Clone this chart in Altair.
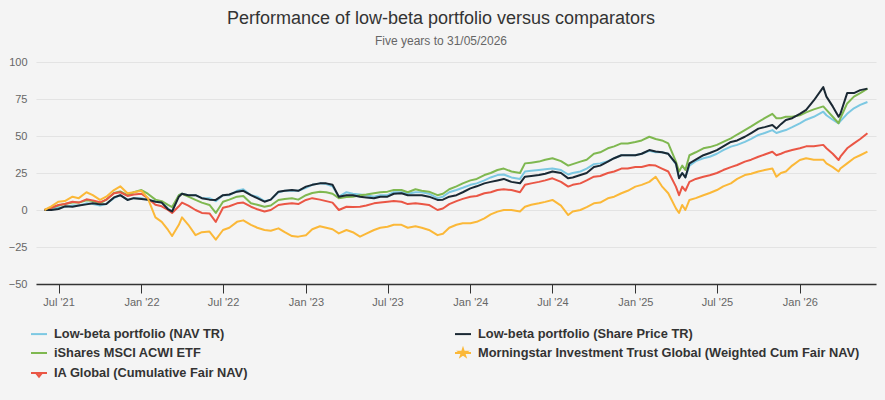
import altair as alt
import pandas as pd

# ---- data (cumulative % performance) ----
dates = [
    "2021-05-31", "2021-06-15", "2021-07-01", "2021-07-15", "2021-08-01", "2021-08-15",
    "2021-09-01", "2021-09-15", "2021-10-01", "2021-10-15", "2021-11-01", "2021-11-15",
    "2021-12-01", "2021-12-15", "2022-01-01", "2022-01-15", "2022-02-01", "2022-02-15",
    "2022-03-01", "2022-03-10", "2022-03-25", "2022-04-01", "2022-04-15", "2022-05-01",
    "2022-05-15", "2022-06-01", "2022-06-15", "2022-07-01", "2022-07-15", "2022-08-01",
    "2022-08-15", "2022-09-01", "2022-09-15", "2022-10-01", "2022-10-15", "2022-11-01",
    "2022-11-15", "2022-12-01", "2022-12-15", "2023-01-01", "2023-01-15", "2023-02-01",
    "2023-02-15", "2023-03-01", "2023-03-15", "2023-04-01", "2023-04-15", "2023-05-01",
    "2023-05-15", "2023-06-01", "2023-06-15", "2023-07-01", "2023-07-15", "2023-08-01",
    "2023-08-15", "2023-09-01", "2023-09-15", "2023-10-01", "2023-10-20", "2023-11-01",
    "2023-11-15", "2023-12-01", "2023-12-15", "2024-01-01", "2024-01-15", "2024-02-01",
    "2024-02-15", "2024-03-01", "2024-03-15", "2024-04-01", "2024-04-20", "2024-05-01",
    "2024-05-15", "2024-06-01", "2024-06-15", "2024-07-01", "2024-07-20", "2024-08-05",
    "2024-08-15", "2024-09-01", "2024-09-15", "2024-10-01", "2024-10-15", "2024-11-01",
    "2024-11-15", "2024-12-01", "2024-12-15", "2025-01-01", "2025-01-15", "2025-02-01",
    "2025-02-15", "2025-03-01", "2025-03-15", "2025-04-01", "2025-04-08", "2025-04-15",
    "2025-04-22", "2025-05-01", "2025-05-15", "2025-06-01", "2025-06-15", "2025-07-01",
    "2025-07-15", "2025-08-01", "2025-08-15", "2025-09-01", "2025-09-15", "2025-10-01",
    "2025-10-15", "2025-11-01", "2025-11-10", "2025-11-20", "2025-12-01", "2025-12-15",
    "2026-01-01", "2026-01-15", "2026-02-01", "2026-02-22", "2026-03-01", "2026-03-15",
    "2026-03-28", "2026-04-01", "2026-04-16", "2026-05-01", "2026-05-15", "2026-05-31",
]

nav_tr = [
    0, 0.5, 1.5, 2, 3, 3, 4.5, 4, 3, 4, 8, 10,
    7, 8, 8, 7, 6, 5, 1, -1, 10, 11, 10, 10,
    8, 8, 6, 10, 10, 13, 14, 10, 9, 6, 7, 12,
    13, 13, 13, 15, 17, 18, 17.5, 16, 9, 12, 11, 10.5,
    10, 9, 10, 10, 12, 12, 11, 12, 12, 11, 8, 9,
    12, 13.5, 15, 17, 18, 20, 22, 23.6, 24, 22, 21, 26,
    26.5, 27, 27.5, 28, 27, 24, 25, 26, 28, 31, 31.5, 33,
    35, 37, 37, 37, 38, 40, 39, 39, 38, 31, 22, 25,
    22, 30, 33, 35, 36, 38, 40.5, 42.8, 44, 46, 48, 50.7,
    52, 54, 52, 53, 54, 56, 58.6, 61, 63, 66.4, 64, 61,
    58.6, 60, 65, 68.7, 71, 73,
]

share_price_tr = [
    0, 0, 0.7, 2.5, 2.2, 3, 3.8, 4.5, 3.8, 4, 8.5, 10,
    6.8, 8, 7.5, 7, 5.6, 5, 0.5, -1, 9, 11, 10, 10,
    8, 7, 6.8, 10, 10.5, 12.4, 13, 10, 8, 5.6, 7, 12.4,
    13, 13.5, 13, 15.8, 17, 18, 18, 17, 9, 10, 10, 9,
    8.5, 7.9, 9, 9, 11, 11.3, 10, 10, 10, 9, 6.8, 7,
    9, 10, 12, 14.6, 16, 18, 19, 20, 21, 19, 18, 22.5,
    23, 23.6, 24.5, 26, 25, 21.4, 22, 23.6, 25, 29, 30, 32.7,
    35, 37, 37, 37, 38, 40.5, 39.5, 39, 38, 31.5, 21.4, 25,
    22, 31.5, 34, 37, 38.5, 40.5, 43, 46, 47, 49.5, 52, 55,
    56, 57.4, 55, 58, 60.8, 62, 65, 67.6, 74, 83, 76.6, 70,
    63, 65, 79, 79, 81, 82,
]

ishares_acwi = [
    0, 1.5, 3, 4, 5, 5, 6.5, 6, 4.5, 7, 11.5, 12.5,
    10, 12, 13.5, 11, 7, 6, 3.4, 2, 10, 11, 9, 6.8,
    5, 3.4, -2, 5.6, 7, 9, 9.5, 4.5, 3.5, 2.2, 3, 6.8,
    7.5, 7.9, 7, 10, 11.5, 12.4, 12, 11, 8, 8.8, 9, 10,
    10.5, 11.3, 12, 12.4, 13.5, 13.5, 12, 14, 13, 12.4, 10, 11,
    14, 16, 18, 20, 21, 23.6, 25, 27, 28, 26, 25, 31.5,
    32, 32.7, 34, 35, 33, 30, 31, 32.7, 34, 38, 39, 41.7,
    43, 45, 45, 46, 47, 49.5, 48, 47, 45, 32.7, 26, 30,
    27, 37, 39, 41.7, 42.5, 44, 46, 48.4, 51, 54, 56.5, 59.6,
    62, 65, 62, 62, 63, 63, 64, 66, 68, 70, 67.6, 63,
    58.6, 62, 72, 76.6, 79, 82,
]

morningstar_it_global = [
    0, 2.5, 5.6, 6, 9, 8, 12, 10, 6.8, 9, 13.5, 16,
    11.3, 12, 13, 8, -5, -8, -13.5, -17.6, -10, -5, -10, -17,
    -15, -14.6, -20, -13.5, -12, -8, -7, -10, -12, -13.5, -14, -12.4,
    -15, -17.6, -18, -17, -13, -11, -12, -13, -15.8, -13.5, -15, -18,
    -16, -13.5, -12, -11.3, -10, -10, -12, -11, -12, -13.5, -17, -16,
    -12, -10, -9, -9, -8, -5.6, -3, -1.1, 0, 0, -1, 2.2,
    3.5, 4.5, 5.5, 6.8, 3, -3.4, -1, 0, 2, 4.5, 5, 7.9,
    9, 11.3, 13, 15.8, 17, 19, 22.5, 16, 11.3, 1.1, -2, 3.4,
    0, 6.8, 8, 10, 11.5, 13.5, 16, 18, 21, 23.6, 24.5, 26,
    27, 28, 22.5, 25, 26, 30, 33.8, 35, 34, 34, 31.5, 29,
    26, 28, 31.5, 35, 37, 39.4,
]

ia_global = [
    0, 1.5, 3.4, 4, 5.6, 5, 7.2, 6.5, 5.2, 7, 11.3, 12,
    9.5, 10.5, 11, 8, 3.5, 2.5, 0, -2, 2.5, 5, 3, 0,
    -2, -2.3, -8, 1.5, 2.5, 4.5, 5, 2.2, 0.5, -1, 0, 3.4,
    4, 4.5, 4, 6.8, 8, 7, 6, 5, 0, 2.2, 2, 2.2,
    3, 4.5, 5, 5.6, 6, 5.6, 4, 4.5, 4, 3.4, 0, 1,
    4, 6, 7.5, 9, 9.5, 11.3, 12, 13.5, 14, 13.5, 12, 17,
    18, 19, 20, 21.4, 19, 15.8, 17, 18, 20, 22.5, 23, 25,
    26, 28, 28, 29, 29, 30.4, 30, 28, 26, 15.8, 10, 15.8,
    13, 19, 21, 22.5, 23.5, 25, 27, 29, 30.4, 32.7, 34, 36,
    37.5, 39.4, 37, 38, 39.4, 40.5, 41.7, 43, 43, 44, 41.7, 38,
    33.8, 36, 41.7, 45, 48, 51.8,
]

# legend order (filled column by column: 3 rows x 2 columns)
series_names = [
    "Low-beta portfolio (NAV TR)",
    "iShares MSCI ACWI ETF",
    "IA Global (Cumulative Fair NAV)",
    "Low-beta portfolio (Share Price TR)",
    "Morningstar Investment Trust Global (Weighted Cum Fair NAV)",
]
series_colors = ["#7cc8e2", "#7fb850", "#ea5645", "#1a2833", "#fbb838"]
series_values = [nav_tr, ishares_acwi, ia_global, share_price_tr, morningstar_it_global]
draw_order = [3, 2, 1, 4, 0]

x_ticks = ["2021-07-01", "2022-01-01", "2022-07-01", "2023-01-01", "2023-07-01",
           "2024-01-01", "2024-07-01", "2025-01-01", "2025-07-01", "2026-01-01"]
y_ticks = [-50, -25, 0, 25, 50, 75, 100]

rows = []
for name, vals, order in zip(series_names, series_values, draw_order):
    for d, v in zip(dates, vals):
        rows.append({"date": d, "value": v, "series": name, "order": order})
df = pd.DataFrame(rows)

FONT = "Liberation Sans"

star_path = ("M-1,0H1 "
             "M0,-0.5L0.11,-0.15L0.47,-0.15L0.18,0.06L0.29,0.4L0,0.19L-0.29,0.4L-0.18,0.06L-0.47,-0.15L-0.11,-0.15Z")
tri_path = "M-1,0H1 M-0.32,0.05L0.32,0.05L0,0.45Z"

shape_expr = (
    f"datum.value === '{series_names[4]}' ? '{star_path}' : "
    f"datum.value === '{series_names[2]}' ? '{tri_path}' : 'stroke'"
)

legend = alt.Legend(
    title=None,
    orient="none",
    legendX=-6,
    legendY=263,
    columns=2,
    columnPadding=203,
    rowPadding=3,
    symbolSize=256,
    symbolType=alt.ExprRef(expr=shape_expr),
    symbolStrokeWidth=2,
    labelFont=FONT,
    labelFontSize=12.8,
    labelFontWeight="bold",
    labelColor="#333333",
    labelOffset=6,
    labelLimit=400,
)

chart = (
    alt.Chart(df)
    .mark_line(strokeWidth=2, strokeJoin="round")
    .encode(
        x=alt.X(
            "date:T",
            scale=alt.Scale(domain=["2021-05-12", "2026-06-19"]),
            axis=alt.Axis(
                title=None,
                values=x_ticks,
                format="%b '%y",
                grid=False,
                domainColor="#333333",
                domainWidth=1.5,
                tickColor="#333333",
                tickSize=9,
                tickWidth=1,
                labelColor="#666666",
                labelFont=FONT,
                labelFontSize=11,
                labelPadding=3,
            ),
        ),
        y=alt.Y(
            "value:Q",
            scale=alt.Scale(domain=[-50, 100], nice=False, zero=False),
            axis=alt.Axis(
                title=None,
                values=y_ticks,
                domain=False,
                ticks=False,
                gridColor="#e3e3e3",
                gridWidth=1,
                labelColor="#666666",
                labelFont=FONT,
                labelFontSize=11,
                labelPadding=9,
            ),
        ),
        color=alt.Color(
            "series:N",
            scale=alt.Scale(domain=series_names, range=series_colors),
            legend=legend,
        ),
        order=alt.Order("order:Q"),
        detail="series:N",
    )
    .properties(
        width=840,
        height=222,
        title=alt.TitleParams(
            text="Performance of low-beta portfolio versus comparators",
            subtitle="Five years to 31/05/2026",
            font=FONT,
            fontSize=18,
            fontWeight="normal",
            color="#333333",
            subtitleFont=FONT,
            subtitleFontSize=12,
            subtitleColor="#666666",
            subtitlePadding=8,
            anchor="middle",
            dx=-15,
            offset=9,
        ),
        autosize=alt.AutoSizeParams(type="none"),
        padding={"left": 36, "top": 62, "right": 9, "bottom": 116},
        background="#f4f4f4",
    )
    .configure_view(stroke=None)
)

chart.save("out.html", embed_options={"renderer": "svg", "actions": False})
